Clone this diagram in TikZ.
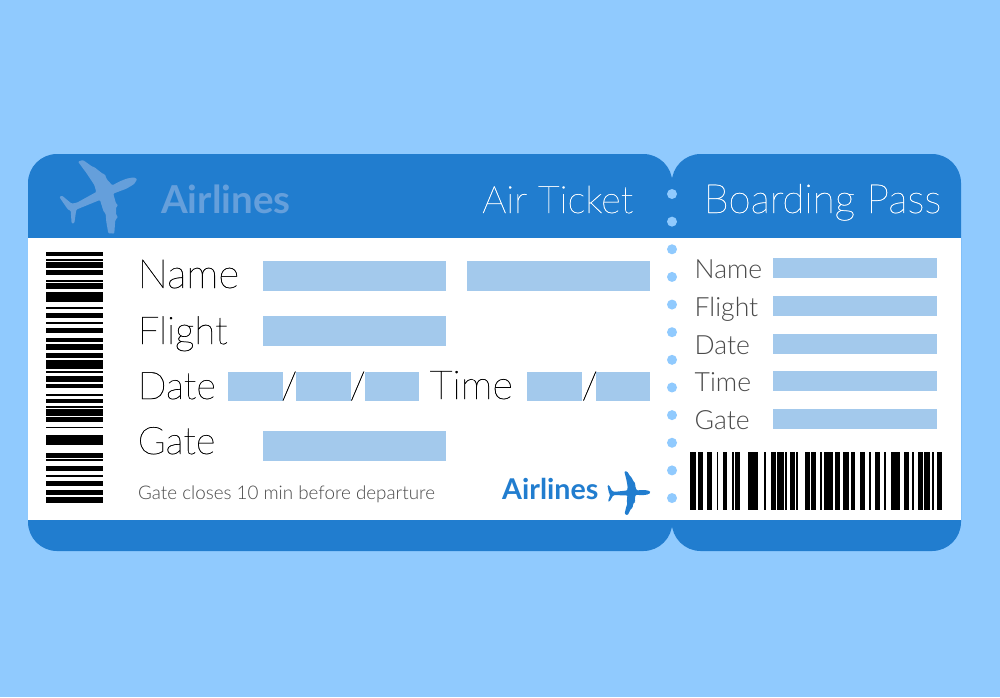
\documentclass[tikz,border=0pt]{standalone}
\usepackage{fontspec}
\setsansfont{Lato}
\newfontfamily\lightfont{Lato Light}
\newfontfamily\thinfont[FakeBold=0.7]{Lato Thin}
\usetikzlibrary{positioning}
\definecolor{skyblue}{HTML}{90CAFE}
\definecolor{ticketblue}{HTML}{217DCF}
\definecolor{fieldblue}{HTML}{A3C9EC}
\definecolor{fadeblue}{HTML}{659FDB}
\definecolor{inkgrey}{HTML}{4A4A4A}
\tikzset{
	plane/.pic = {
		\fill[pic actions, rounded corners=1pt]
			(247,72) -- (236,67) -- (215,71) -- (195,79) -- (172,91) -- (155,72)
			-- (150,58) -- (143,56) -- (125,42) -- (118,36) -- (112,35) -- (84,15) -- (69,20)
			-- (95,55) -- (118,90) -- (124,111) -- (66,143) -- (50,146)
			-- (21,122) -- (13,126) -- (34,157) -- (41,166) -- (47,166) -- (50,206) -- (58,205)
			-- (64,164) -- (135,135) -- (146,170) -- (152,176) -- (154,200) -- (160,235) -- (178,236)
			-- (181,196) -- (189,186) -- (183,178) -- (184,155) -- (190,152) -- (183,145) -- (175,116)
			-- (215,101) -- (238,87) -- cycle;
	}
}

\begin{document}
\begin{tikzpicture}[
x = 1pt,
y = -1pt,
field/.style = {
	fill = fieldblue,
	inner sep = 0pt,
	anchor = north west
},
wide/.style = {
	field,
	minimum width = 183pt,
	minimum height = 29.5pt
},
short/.style = {
	field,
	minimum width = 54.5pt,
	minimum height = 29.5pt
},
pass/.style = {
	field,
	minimum width = 164pt,
	minimum height = 20pt
},
biglabel/.style = {
	anchor = base west,
	inner sep = 0pt,
	text = black,
	font = \thinfont\fontsize{38}{38}\selectfont
},
smalllabel/.style = {
	anchor = base west,
	inner sep = 0pt,
	text = inkgrey,
	font = \lightfont\fontsize{26.5}{26.5}\selectfont
},
headline/.style = {
	anchor = base west,
	inner sep = 0pt,
	text = white,
	font = \thinfont\fontsize{38}{38}\selectfont
}
]

\useasboundingbox (0,0) rectangle (1000,697);
\fill[skyblue] (0,0) rectangle (1000,697);

% ticket
\fill[ticketblue, rounded corners=29pt] (28,154) rectangle (672.3,551);
\fill[ticketblue, rounded corners=29pt] (671.7,154) rectangle (961,551);
\fill[white] (28,238) rectangle (961,520);

% perforation
\foreach \i in {0,...,11}
	\fill[skyblue] (672,{194+27.64*\i}) circle (5);

% header
\pic[fill=fadeblue, scale=.333] at (55,155) {plane};
\node (title) [anchor=base west, inner sep=0pt, text=fadeblue, font=\sffamily\bfseries\fontsize{38.5}{38.5}\selectfont] at (161,213) {Airlines};
\node (ticket) [headline] at (482,213) {Air Ticket};
\node (boarding) [headline, font=\thinfont\fontsize{40.4}{40.4}\selectfont] at (703.5,213) {Boarding Pass};

% main part
\node (name_1) [wide] at (263,261) {};
\node (name_2) [wide] at (467,261) {};
\node (flight_1) [wide] at (263,316) {};
\node (date_1) [short] at (228,371.5) {};
\node (date_2) [short] at (296,371.5) {};
\node (date_3) [short] at (364.5,371.5) {};
\node (time_1) [short] at (527,371.5) {};
\node (time_2) [short] at (595.5,371.5) {};
\node (gate_1) [wide] at (263,431) {};

\node (name_label) [biglabel, font=\thinfont\fontsize{40.5}{40.5}\selectfont] at (137.5,288) {Name};
\node (flight_label) [biglabel, font=\thinfont\fontsize{38.5}{38.5}\selectfont] at (137.5,344) {Flight};
\node (date_label) [biglabel] at (137.5,399) {Date};
\node (time_label) [biglabel, font=\thinfont\fontsize{40}{40}\selectfont] at (429.5,399) {Time};
\node (gate_label) [biglabel] at (137.5,454) {Gate};
\node (slash_1) [biglabel] at (281,399) {/};
\node (slash_2) [biglabel] at (349.5,399) {/};
\node (slash_3) [biglabel] at (581.5,399) {/};

\node (notice) [anchor=base west, inner sep=0pt, text=inkgrey, font=\lightfont\fontsize{18.8}{18.8}\selectfont] at (138,499) {Gate closes 10 min before departure};
\node (brand) [anchor=base west, inner sep=0pt, text=ticketblue, font=\sffamily\bfseries\fontsize{28.6}{28.6}\selectfont] at (502,499) {Airlines};
\pic[fill=ticketblue, scale=.183, rotate=-22.5] at (614,463) {plane};

% stub
\node (pass_name) [pass] at (773,258) {};
\node (pass_flight) [pass] at (773,296) {};
\node (pass_date) [pass] at (773,333.5) {};
\node (pass_time) [pass] at (773,371) {};
\node (pass_gate) [pass] at (773,409) {};

\node (pass_name_label) [smalllabel] at (694.5,278) {Name};
\node (pass_flight_label) [smalllabel] at (694.5,316) {Flight};
\node (pass_date_label) [smalllabel] at (694.5,354) {Date};
\node (pass_time_label) [smalllabel] at (694.5,391) {Time};
\node (pass_gate_label) [smalllabel] at (694.5,429) {Gate};

% barcodes
\foreach \a/\b in {251.7/256.3, 259/260.7, 262.3/268.3, 270.3/275, 279.7/281.7, 283.3/288.7,
	292.3/302, 307/309, 313.3/318, 322.3/324, 328.3/333.3, 337.7/342.3, 343.7/350, 353/357.7,
	359.7/369.3, 371/372.7, 376/381.7, 383.7/388, 394.3/396, 398.7/403.3, 406/407.7, 409.3/415.7,
	417.3/422.3, 426.7/428.3, 435.3/444.7, 452.7/457.7, 459.3/461, 465.7/470.7, 475/476.7,
	481/485.7, 490.3/495, 496.7/502.7}
	\fill[black] (46,\a) rectangle (103,\b);

\foreach \a/\b in {690.3/696, 697.7/702.7, 707.3/712, 716.7/718.3, 722.7/727.3, 732/733.7,
	735.3/740.3, 748.3/757.7, 764.3/766, 771/775.7, 777.3/783.7, 785/786.7, 790/794.7, 796.3/798,
	805/809.7, 811/816, 820/822, 823.7/833.3, 835/840, 843/849.3, 851/855.3, 860/864.7, 869.3/871,
	875.3/880, 884.3/886, 890.7/900.3, 904/909, 912/913.7, 918/923, 924.3/930.3, 932.3/934, 937.3/942}
	\fill[black] (\a,452) rectangle (\b,510);

\end{tikzpicture}
\end{document}
